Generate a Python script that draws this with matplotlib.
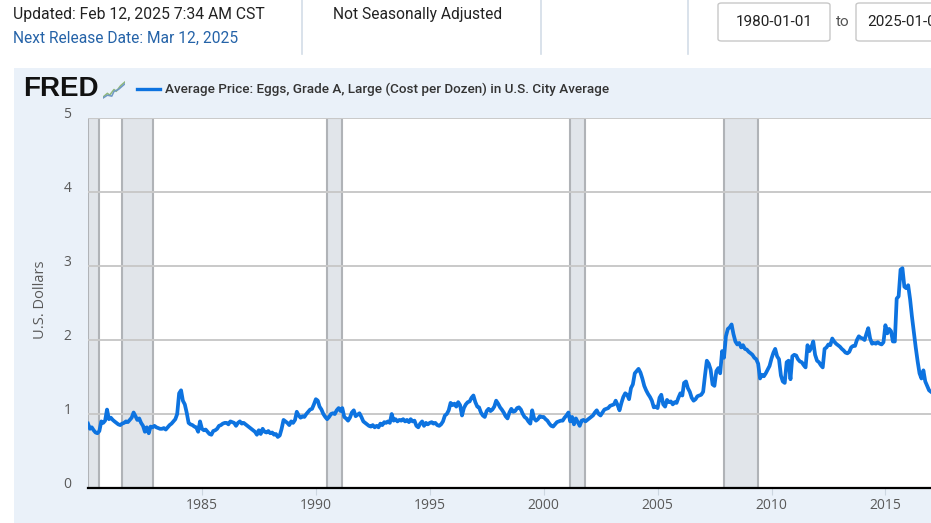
import numpy as np
import pandas as pd
import matplotlib
matplotlib.use('Agg')
import matplotlib.pyplot as plt
import matplotlib.dates as mdates
from matplotlib.patches import Rectangle, FancyBboxPatch
from matplotlib.transforms import ScaledTranslation

# monthly egg prices (USD per dozen)
p1980 = [0.87, 0.80, 0.82, 0.78, 0.75, 0.74, 0.77, 0.90, 0.88, 0.91, 1.06, 0.93]
p1981 = [0.95, 0.92, 0.90, 0.88, 0.86, 0.85, 0.87, 0.88, 0.90, 0.89, 0.92, 0.95]
p1982 = [1.02, 0.97, 0.92, 0.94, 0.88, 0.84, 0.76, 0.82, 0.74, 0.83, 0.82, 0.84]
p1983 = [0.82, 0.81, 0.80, 0.80, 0.81, 0.79, 0.82, 0.85, 0.87, 0.90, 0.93, 1.00]
p1984 = [1.28, 1.32, 1.18, 1.13, 1.02, 0.88, 0.86, 0.85, 0.83, 0.82, 0.76, 0.90]
p1985 = [0.80, 0.78, 0.79, 0.76, 0.73, 0.72, 0.77, 0.78, 0.80, 0.84, 0.85, 0.87]
p1986 = [0.88, 0.88, 0.86, 0.90, 0.89, 0.88, 0.84, 0.88, 0.90, 0.87, 0.88, 0.86]
p1987 = [0.84, 0.82, 0.80, 0.78, 0.76, 0.72, 0.78, 0.73, 0.80, 0.76, 0.75, 0.77]
p1988 = [0.74, 0.75, 0.72, 0.73, 0.69, 0.71, 0.80, 0.92, 0.90, 0.88, 0.85, 0.90]
p1989 = [0.88, 0.92, 1.03, 0.98, 0.95, 0.97, 0.96, 1.00, 1.03, 1.06, 1.07, 1.13]
p1990 = [1.20, 1.18, 1.10, 1.06, 1.00, 0.96, 0.93, 0.96, 1.00, 1.01, 1.00, 1.05]
p1991 = [1.08, 1.04, 1.08, 0.96, 0.94, 0.91, 0.95, 1.02, 1.05, 0.97, 0.99, 1.01]
p1992 = [0.96, 0.90, 0.88, 0.86, 0.84, 0.83, 0.85, 0.82, 0.84, 0.82, 0.87, 0.85]
p1993 = [0.89, 0.88, 0.90, 0.88, 1.00, 0.91, 0.93, 0.90, 0.92, 0.91, 0.93, 0.90]
p1994 = [0.92, 0.89, 0.93, 0.90, 0.91, 0.84, 0.82, 0.87, 0.90, 0.84, 0.88, 0.86]
p1995 = [0.88, 0.89, 0.87, 0.88, 0.85, 0.84, 0.86, 0.90, 0.98, 1.00, 1.05, 1.15]
p1996 = [1.12, 1.14, 1.10, 1.16, 1.12, 0.98, 1.08, 1.13, 1.16, 1.17, 1.22, 1.25]
p1997 = [1.16, 1.10, 1.09, 1.02, 0.98, 0.96, 1.04, 1.07, 1.04, 1.06, 1.10, 1.18]
p1998 = [1.14, 1.09, 1.06, 1.02, 0.97, 0.94, 1.02, 1.07, 1.03, 1.04, 1.08, 1.09]
p1999 = [1.06, 1.00, 0.96, 0.94, 0.90, 0.87, 1.05, 0.94, 0.91, 0.93, 0.97, 0.96]
p2000 = [0.96, 0.93, 0.91, 0.87, 0.84, 0.83, 0.86, 0.89, 0.90, 0.91, 0.91, 0.95]
p2001 = [0.98, 1.02, 0.90, 0.96, 0.86, 0.94, 0.89, 0.84, 0.91, 0.92, 0.90, 0.92]
p2002 = [0.94, 0.96, 0.98, 1.02, 1.05, 1.00, 0.98, 1.02, 1.06, 1.07, 1.08, 1.11]
p2003 = [1.12, 1.13, 1.18, 1.12, 1.05, 1.15, 1.23, 1.28, 1.26, 1.20, 1.35, 1.40]
p2004 = [1.55, 1.58, 1.61, 1.56, 1.48, 1.38, 1.32, 1.27, 1.23, 1.18, 1.09, 1.10]
p2005 = [1.08, 1.22, 1.26, 1.13, 1.10, 1.19, 1.16, 1.17, 1.13, 1.16, 1.15, 1.22]
p2006 = [1.28, 1.25, 1.42, 1.44, 1.35, 1.30, 1.22, 1.18, 1.20, 1.24, 1.25, 1.26]
p2007 = [1.30, 1.53, 1.72, 1.68, 1.60, 1.40, 1.38, 1.58, 1.62, 1.55, 1.85, 1.76]
p2008 = [2.05, 2.15, 2.17, 2.21, 2.08, 1.98, 1.94, 1.96, 1.90, 1.93, 1.88, 1.87]
p2009 = [1.84, 1.82, 1.80, 1.76, 1.74, 1.68, 1.48, 1.53, 1.51, 1.55, 1.60, 1.65]
p2010 = [1.75, 1.83, 1.88, 1.78, 1.74, 1.52, 1.44, 1.42, 1.70, 1.72, 1.47, 1.78]
p2011 = [1.80, 1.79, 1.74, 1.71, 1.70, 1.66, 1.63, 1.93, 1.85, 1.90, 1.98, 1.80]
p2012 = [1.72, 1.70, 1.66, 1.63, 1.88, 1.90, 1.94, 1.93, 2.02, 1.98, 1.95, 1.93]
p2013 = [1.91, 1.88, 1.86, 1.83, 1.82, 1.84, 1.90, 1.92, 1.92, 2.00, 2.05, 2.03]
p2014 = [2.02, 2.00, 2.08, 2.16, 2.02, 1.95, 1.96, 1.95, 1.97, 1.95, 1.94, 1.97]
p2015 = [2.20, 2.09, 2.15, 2.12, 1.98, 1.98, 2.56, 2.59, 2.95, 2.97, 2.72, 2.70]
p2016 = [2.74, 2.55, 2.32, 2.11, 1.90, 1.71, 1.55, 1.48, 1.59, 1.44, 1.38, 1.32]
p2017 = [1.30]

years = [p1980, p1981, p1982, p1983, p1984, p1985, p1986, p1987, p1988, p1989,
         p1990, p1991, p1992, p1993, p1994, p1995, p1996, p1997, p1998, p1999,
         p2000, p2001, p2002, p2003, p2004, p2005, p2006, p2007, p2008, p2009,
         p2010, p2011, p2012, p2013, p2014, p2015, p2016, p2017]
prices = np.concatenate(years)
dates = pd.date_range('1980-01-01', periods=len(prices), freq='MS')

recessions = [('1980-01-01', '1980-07-01'), ('1981-07-01', '1982-11-01'),
              ('1990-07-01', '1991-03-01'), ('2001-03-01', '2001-11-01'),
              ('2007-12-01', '2009-06-01')]
yticks = [0, 1, 2, 3, 4, 5]
xtick_years = [1985, 1990, 1995, 2000, 2005, 2010, 2015]

W, H = 931, 523
fig = plt.figure(figsize=(W / 100, H / 100), dpi=100)
fig.patch.set_facecolor('white')

def fx(px):
    return px / W

def fy(py):
    return 1 - py / H

# light blue chart panel (behind the axes)
fig.patches.append(Rectangle((fx(14), 0), 1 - fx(14), fy(68), transform=fig.transFigure,
                             facecolor='#eaf1f9', edgecolor='none', zorder=-5))

# header row
fig.text(fx(13), fy(14), 'Updated: Feb 12, 2025 7:34 AM CST', family='Roboto',
         fontsize=11.3, color='#222222', va='center', ha='left')
fig.text(fx(13), fy(38), 'Next Release Date: Mar 12, 2025', family='Roboto',
         fontsize=11.2, color='#2563a8', va='center', ha='left')
fig.text(fx(333), fy(14), 'Not Seasonally Adjusted', family='Roboto',
         fontsize=11.2, color='#222222', va='center', ha='left')
for sx in [302, 541, 688]:
    fig.add_artist(plt.Line2D([fx(sx), fx(sx)], [fy(0), fy(54)], transform=fig.transFigure,
                              color='#d3dde8', lw=1.2))
fig.patches.append(FancyBboxPatch((fx(718), fy(41)), fx(112), 38 / H, transform=fig.transFigure,
                                  boxstyle='round,pad=0,rounding_size=0.004',
                                  facecolor='white', edgecolor='#c8c8c8', lw=1))
fig.text(fx(774), fy(22), '1980-01-01', family='Roboto', fontsize=11, color='#222222',
         va='center', ha='center')
fig.text(fx(836), fy(22), 'to', family='Roboto', fontsize=11, color='#555555',
         va='center', ha='left')
fig.patches.append(FancyBboxPatch((fx(856), fy(41)), fx(120), 38 / H, transform=fig.transFigure,
                                  boxstyle='round,pad=0,rounding_size=0.004',
                                  facecolor='white', edgecolor='#c8c8c8', lw=1))
fig.text(fx(867), fy(22), '2025-01-01', family='Roboto', fontsize=11, color='#222222',
         va='center', ha='left')

# FRED logo + legend
fig.text(fx(23), fy(89), 'FRED', family='Liberation Sans', fontweight='bold',
         fontsize=20, color='#111111', va='center', ha='left')
icon = fig.add_axes([fx(103), fy(99), fx(22), 19 / H])
icon.set_facecolor('#f1f1f1')
icon.plot([0, 2, 3, 5, 6, 8, 10], [1, 3, 2, 5, 4, 7, 9], color='#8fb87a', lw=1.1)
icon.plot([0, 2, 4, 5, 7, 10], [0.5, 2, 1.5, 4, 5, 8], color='#6f98c4', lw=1.1)
icon.set_xlim(0, 10)
icon.set_ylim(0, 10)
icon.axis('off')
fig.add_artist(plt.Line2D([fx(137), fx(160)], [fy(89), fy(89)], transform=fig.transFigure,
                          color='#0d73e0', lw=2.4))
fig.text(fx(165), fy(89), 'Average Price: Eggs, Grade A, Large (Cost per Dozen) in U.S. City Average',
         family='Roboto', fontweight='medium', fontsize=9.7, color='#333333',
         va='center', ha='left')

# main plot
ax = fig.add_axes([fx(88), fy(488), 1 - fx(88), (488 - 118) / H])
ax.set_facecolor('white')
for start, end in recessions:
    ax.axvspan(pd.Timestamp(start), pd.Timestamp(end), facecolor='#e1e5ea',
               edgecolor='#b0b3b7', lw=1.5, zorder=1)
for v in yticks[1:]:
    ax.axhline(v, color='#c9c9c9', lw=1.4, zorder=2)
ax.plot(dates, prices, color='#0d73e0', lw=2.7, zorder=3, solid_joinstyle='round')

ax.set_xlim(pd.Timestamp('1980-01-01'), pd.Timestamp('2017-01-01'))
ax.set_ylim(0, 5)
ax.set_yticks(yticks)
ax.set_xticks([pd.Timestamp(f'{y}-01-01') for y in xtick_years])
ax.xaxis.set_major_formatter(mdates.DateFormatter('%Y'))
for side in ['top', 'right', 'left']:
    ax.spines[side].set_visible(False)
ax.spines['bottom'].set_color('black')
ax.spines['bottom'].set_linewidth(1.6)
ax.spines['bottom'].set_zorder(4)
ax.tick_params(axis='y', length=0, pad=12, labelsize=10, labelcolor='#595959')
ax.tick_params(axis='x', length=5, color='#ccd6e0', pad=2, labelsize=10, labelcolor='#595959')
for lab in ax.get_yticklabels():
    lab.set_family('Open Sans')
    lab.set_transform(lab.get_transform() + ScaledTranslation(0, 6 / 100, fig.dpi_scale_trans))
for lab in ax.get_xticklabels():
    lab.set_family('Open Sans')

fig.text(fx(41), fy(300), 'U.S. Dollars', family='Open Sans', fontsize=10.5,
         color='#595959', rotation=90, va='center', ha='center')

fig.savefig('out.png', dpi=100)
